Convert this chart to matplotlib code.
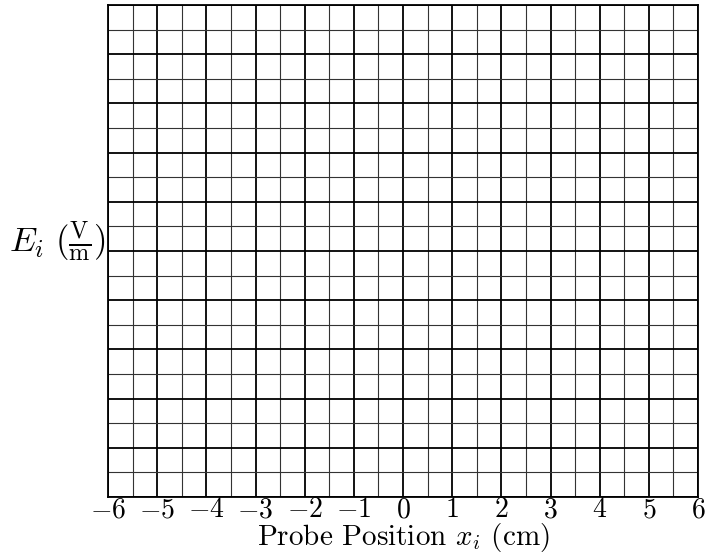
import numpy as np
import matplotlib
matplotlib.use("Agg")
import matplotlib.pyplot as plt

plt.rcParams['font.family'] = 'serif'
plt.rcParams['font.serif'] = ['cmr10']
plt.rcParams['mathtext.fontset'] = 'cm'
plt.rcParams['axes.formatter.use_mathtext'] = True

# axis ranges and grid spacing
x_range = [-6, 6]
y_range = [0, 10]
x_major = np.arange(-6, 7, 1)
x_minor = np.arange(-6, 6.5, 0.5)
y_major = np.arange(0, 11, 1)
y_minor = np.arange(0, 10.5, 0.5)

fig = plt.figure(figsize=(7.15, 5.57), dpi=100)
ax = fig.add_axes([108/715, 60/557, 590/715, 492/557])

ax.set_xlim(x_range)
ax.set_ylim(y_range)
ax.set_xticks(x_major)
ax.set_xticks(x_minor, minor=True)
ax.set_yticks(y_major)
ax.set_yticks(y_minor, minor=True)
ax.set_yticklabels([])

ax.grid(which='major', color='black', linewidth=1.3)
ax.grid(which='minor', color='#333333', linewidth=0.8)
ax.tick_params(which='both', length=0, labelsize=20, pad=0)
for s in ax.spines.values():
    s.set_linewidth(1.3)

ax.set_xlabel(r'Probe Position $x_i$ (cm)', fontsize=21, labelpad=-1.5)
ax.set_ylabel(r'$E_i\ (\frac{\mathrm{V}}{\mathrm{m}})$', fontsize=25,
              rotation=0, ha='right', va='center')
ax.yaxis.set_label_coords(-0.004, 0.52)

fig.savefig("out.png")
